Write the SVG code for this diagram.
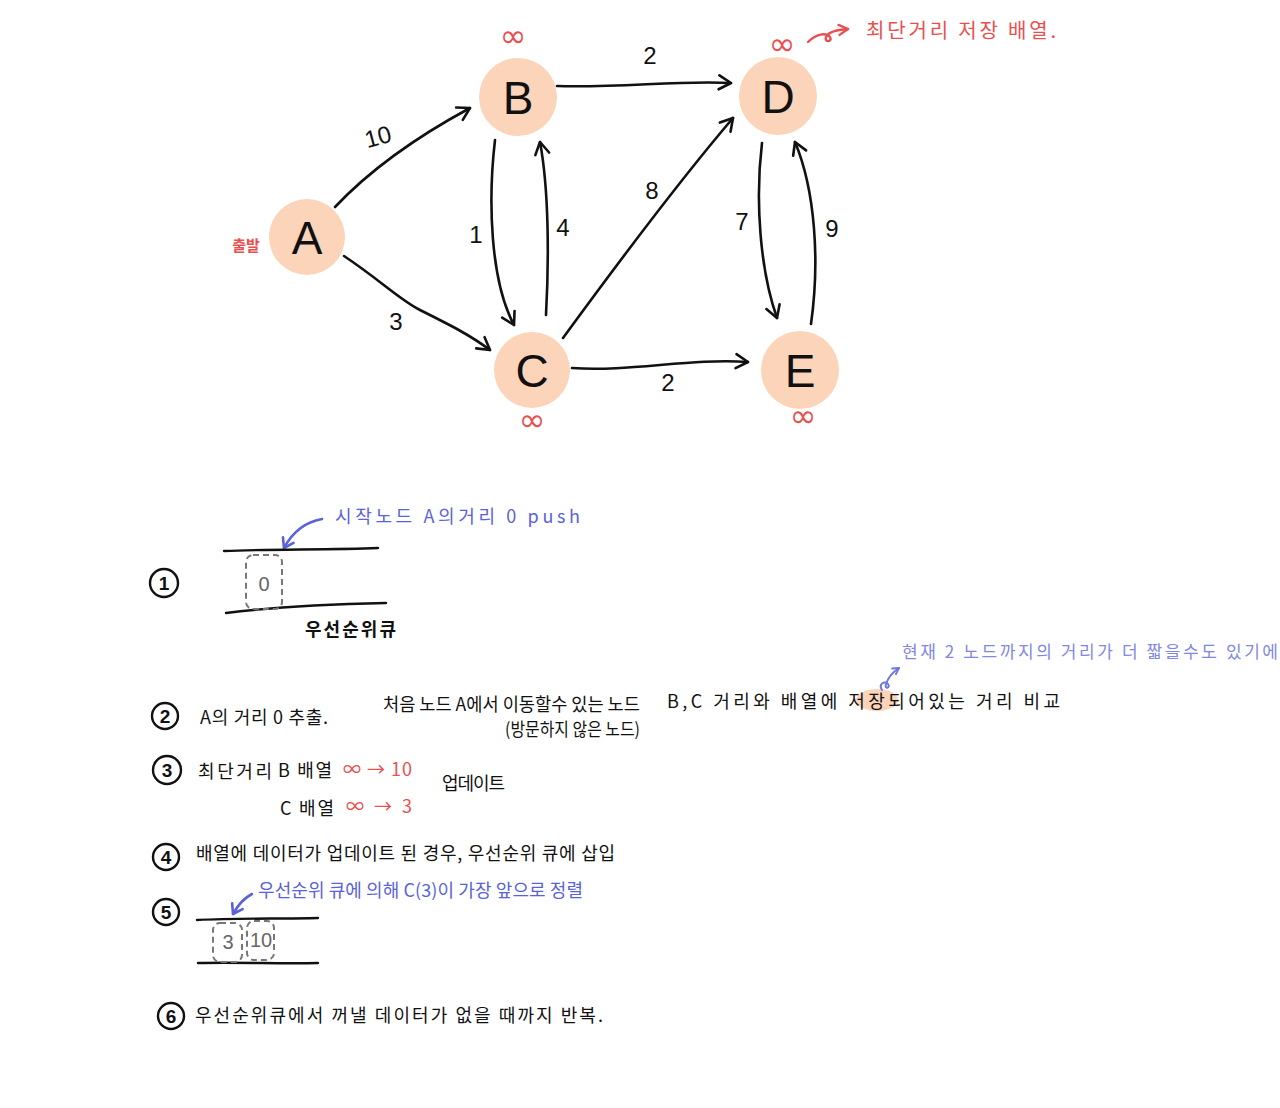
<svg xmlns="http://www.w3.org/2000/svg" width="1280" height="1108" viewBox="0 0 1280 1108">
<defs>
<style>
.node{fill:#FBD4BA}
.nl{font-family:"Liberation Sans","Noto Sans",sans-serif;font-size:46px;fill:#111;text-anchor:middle}
.edge{fill:none;stroke:#111;stroke-width:2.6;stroke-linecap:round;marker-end:url(#ah)}
.el{font-family:"Liberation Sans","Noto Sans",sans-serif;font-size:24px;fill:#111;text-anchor:middle}
.inf{font-family:"DejaVu Sans",sans-serif;font-size:32px;fill:#E8504F;text-anchor:middle}
.red{font-family:"Noto Sans CJK KR",sans-serif;fill:#E8504F}
.blk{font-family:"Noto Sans CJK KR",sans-serif;font-size:18px;fill:#111}
.blue{font-family:"Noto Sans CJK KR",sans-serif;font-size:18px;fill:#5A62D8}
.lblue{font-family:"Noto Sans CJK KR",sans-serif;font-size:17px;fill:#8088E2}
.num{fill:none;stroke:#111;stroke-width:2.4}
.numt{font-family:"Liberation Sans",sans-serif;font-size:19px;font-weight:bold;fill:#111;text-anchor:middle}
.qline{fill:none;stroke:#111;stroke-width:2.4;stroke-linecap:round}
.qbox{fill:none;stroke:#777;stroke-width:2;stroke-dasharray:6 4}
.qt{font-family:"Liberation Sans",sans-serif;font-size:20px;fill:#666;text-anchor:middle}
</style>
<marker id="ah" viewBox="-14 -9 16 18" refX="0" refY="0" markerWidth="16" markerHeight="18" markerUnits="userSpaceOnUse" orient="auto">
<path d="M-12,-7 L0,0 L-12,7" fill="none" stroke="#111" stroke-width="2.6" stroke-linecap="round" stroke-linejoin="round"/>
</marker>
<marker id="ahr" viewBox="-12 -8 14 16" refX="0" refY="0" markerWidth="14" markerHeight="16" markerUnits="userSpaceOnUse" orient="auto">
<path d="M-9,-5 L0,0 L-9,5" fill="none" stroke="#E8504F" stroke-width="2.4" stroke-linecap="round" stroke-linejoin="round"/>
</marker>
<marker id="ahb" viewBox="-12 -8 14 16" refX="0" refY="0" markerWidth="14" markerHeight="16" markerUnits="userSpaceOnUse" orient="auto">
<path d="M-9,-6 L0,0 L-9,6" fill="none" stroke="#5A62D8" stroke-width="2.6" stroke-linecap="round" stroke-linejoin="round"/>
</marker>
<marker id="ahlb" viewBox="-12 -8 14 16" refX="0" refY="0" markerWidth="12" markerHeight="14" markerUnits="userSpaceOnUse" orient="auto">
<path d="M-7,-4 L0,0 L-7,4" fill="none" stroke="#6E77DE" stroke-width="2.2" stroke-linecap="round" stroke-linejoin="round"/>
</marker>
</defs>
<rect width="1280" height="1108" fill="#fff"/>

<g id="connectors">
<path class="edge" d="M335,207 C370,170 420,135 470,108"/>
<path class="edge" d="M344,256 C380,280 400,300 420,310 C450,325 470,335 490,350"/>
<path class="edge" d="M495,140 C488,200 490,280 514,325"/>
<path class="edge" d="M546,315 C549,260 549,190 540,142"/>
<path class="edge" d="M557,86 C620,88 680,80 731,83"/>
<path class="edge" d="M563,338 C620,260 680,180 733,118"/>
<path class="edge" d="M572,368 C630,372 690,358 748,362"/>
<path class="edge" d="M762,143 C755,200 760,270 777,318"/>
<path class="edge" d="M811,324 C820,260 815,190 795,142"/>
<text class="el" x="378" y="145" transform="rotate(-15 378 137)">10</text>
<text class="el" x="396" y="330">3</text>
<text class="el" x="476" y="243" font-size="20">1</text>
<text class="el" x="563" y="236">4</text>
<text class="el" x="650" y="64">2</text>
<text class="el" x="652" y="199">8</text>
<text class="el" x="668" y="391">2</text>
<text class="el" x="742" y="230">7</text>
<text class="el" x="832" y="237">9</text>
</g>

<g id="node-A">
<circle class="node" cx="307" cy="237" r="38"/>
<text class="nl" x="307" y="254">A</text>
<text class="red" x="246" y="251" font-size="15" text-anchor="middle" font-weight="bold">출발</text>
</g>
<g id="node-B">
<circle class="node" cx="518" cy="97" r="39"/>
<text class="nl" x="518" y="114">B</text>
<text class="inf" x="513" y="47">∞</text>
</g>
<g id="node-C">
<circle class="node" cx="532" cy="370" r="38"/>
<text class="nl" x="532" y="387">C</text>
<text class="inf" x="532" y="431">∞</text>
</g>
<g id="node-D">
<circle class="node" cx="778" cy="96" r="39"/>
<text class="nl" x="778" y="113">D</text>
<text class="inf" x="782" y="55">∞</text>
</g>
<g id="node-E">
<circle class="node" cx="800" cy="370" r="39"/>
<text class="nl" x="800" y="387">E</text>
<text class="inf" x="803" y="427">∞</text>
</g>

<g id="note-array">
<path d="M808,42 C816,34 826,32 830,37 C833,42 824,43 826,37 C829,31 838,30 848,29" fill="none" stroke="#E8504F" stroke-width="2.4" stroke-linecap="round" marker-end="url(#ahr)"/>
<text class="red" x="866" y="38" font-size="20" textLength="190" lengthAdjust="spacing">최단거리 저장 배열.</text>
</g>

<g id="step1">
<circle class="num" cx="164" cy="583" r="14"/>
<text class="numt" x="164" y="590">1</text>
<path d="M322,519 C305,522 292,533 284,548" fill="none" stroke="#5A62D8" stroke-width="2.6" stroke-linecap="round" marker-end="url(#ahb)"/>
<text class="blue" x="335" y="523" textLength="245" lengthAdjust="spacing">시작노드 A의거리 0 push</text>
<path class="qline" d="M224,551 C270,549 330,550 378,548"/>
<path class="qline" d="M226,613 C280,606 340,604 386,603"/>
<rect class="qbox" x="246" y="555" width="36" height="54" rx="7"/>
<text class="qt" x="264" y="591">0</text>
<text class="blk" x="305" y="636" font-weight="bold" textLength="91" lengthAdjust="spacing">우선순위큐</text>
</g>

<g id="step2">
<circle class="num" cx="165" cy="716" r="13"/>
<text class="numt" x="165" y="723">2</text>
<text class="blk" x="200" y="724" textLength="128" lengthAdjust="spacing">A의 거리 0 추출.</text>
<text class="blk" x="383" y="711" font-size="16" textLength="257" lengthAdjust="spacingAndGlyphs">처음 노드 A에서 이동할수 있는 노드</text>
<text class="blk" x="505" y="736" font-size="15" textLength="135" lengthAdjust="spacingAndGlyphs">(방문하지 않은 노드)</text>
<ellipse cx="877" cy="700" rx="21" ry="11" fill="#FBD4BA"/>
<text class="blk" x="667" y="708" textLength="393" lengthAdjust="spacing">B,C 거리와 배열에 저장되어있는 거리 비교</text>
<path d="M882,690 C878,684 885,680 888,684 C891,688 884,690 886,684 C888,678 893,672 899,668" fill="none" stroke="#6E77DE" stroke-width="2" stroke-linecap="round" marker-end="url(#ahlb)"/>
<text class="lblue" x="902" y="658" textLength="376" lengthAdjust="spacing">현재 2 노드까지의 거리가 더 짧을수도 있기에</text>
</g>

<g id="step3">
<circle class="num" cx="167" cy="770" r="14"/>
<text class="numt" x="167" y="777">3</text>
<text class="blk" x="198" y="778" textLength="74" lengthAdjust="spacing">최단거리</text>
<text class="blk" x="278" y="777" textLength="54" lengthAdjust="spacing">B 배열</text>
<text class="red" x="343" y="776" font-size="18" textLength="69" lengthAdjust="spacing">∞ → 10</text>
<text class="blk" x="442" y="790" textLength="63" lengthAdjust="spacing">업데이트</text>
<text class="blk" x="280" y="815" textLength="54" lengthAdjust="spacing">C 배열</text>
<text class="red" x="346" y="813" font-size="18" textLength="66" lengthAdjust="spacing">∞ → 3</text>
</g>

<g id="step4">
<circle class="num" cx="166" cy="857" r="13"/>
<text class="numt" x="166" y="864">4</text>
<text class="blk" x="196" y="860" textLength="419" lengthAdjust="spacing">배열에 데이터가 업데이트 된 경우, 우선순위 큐에 삽입</text>
</g>

<g id="step5">
<circle class="num" cx="166" cy="912" r="13"/>
<text class="numt" x="166" y="919">5</text>
<path d="M252,894 C244,898 238,905 233,914" fill="none" stroke="#5A62D8" stroke-width="2.6" stroke-linecap="round" marker-end="url(#ahb)"/>
<text class="blue" x="258" y="897" textLength="325" lengthAdjust="spacing">우선순위 큐에 의해 C(3)이 가장 앞으로 정렬</text>
<path class="qline" d="M197,920 C240,918 280,919 318,918"/>
<path class="qline" d="M198,963 C240,962 280,964 318,963"/>
<rect class="qbox" x="213" y="923" width="29" height="39" rx="7"/>
<text class="qt" x="228" y="949" font-size="17">3</text>
<rect class="qbox" x="247" y="921" width="27" height="39" rx="7"/>
<text class="qt" x="261" y="947" font-size="15">10</text>
</g>

<g id="step6">
<circle class="num" cx="171" cy="1016" r="13"/>
<text class="numt" x="171" y="1023">6</text>
<text class="blk" x="195" y="1022" textLength="408" lengthAdjust="spacing">우선순위큐에서 꺼낼 데이터가 없을 때까지 반복.</text>
</g>
</svg>
